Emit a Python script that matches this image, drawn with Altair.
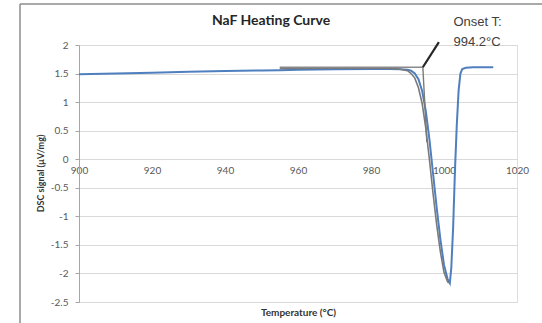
import altair as alt
import pandas as pd

# DSC heating run for NaF (blue series)
temp_c = [900, 910, 920, 930, 940, 950, 955, 960, 970, 980, 985, 988, 990, 991,
          992, 993, 994, 995, 996, 997, 998, 999, 1000, 1001, 1001.6, 1002,
          1002.5, 1003, 1003.5, 1004, 1004.5, 1005, 1006, 1008, 1010, 1013.5]
dsc_signal = [1.49, 1.50, 1.515, 1.53, 1.545, 1.555, 1.56, 1.565, 1.575, 1.58,
              1.58, 1.575, 1.565, 1.55, 1.50, 1.40, 1.20, 0.85, 0.35, -0.25,
              -0.85, -1.40, -1.85, -2.10, -2.17, -1.90, -1.20, -0.20, 0.60,
              1.20, 1.50, 1.58, 1.60, 1.61, 1.61, 1.61]

# Evaluation segment of the melting peak (grey series)
eval_temp = [955, 970, 980, 985, 988, 990, 991, 992, 993, 994, 995, 996, 997,
             998, 999, 1000, 1001, 1001.6]
eval_signal = [1.59, 1.595, 1.595, 1.59, 1.575, 1.55, 1.50, 1.42, 1.25, 0.98,
               0.55, 0.0, -0.60, -1.15, -1.62, -1.98, -2.15, -2.17]

# Extrapolated baseline and leading-edge tangent meeting at the onset
onset_t = 994.2
baseline_temp = [955, onset_t]
baseline_signal = [1.61, 1.61]
tangent_temp = [onset_t, 995.3]
tangent_signal = [1.61, 0.30]

# Leader line and text for the onset annotation
leader_temp = [onset_t, 998.6]
leader_signal = [1.61, 2.05]
note_lines = ["Onset T:", f"{onset_t}°C"]
note_temp = [1002.6, 1002.6]
note_signal = [2.41, 2.06]

x_ticks = [900, 920, 940, 960, 980, 1000, 1020]
y_ticks = [2, 1.5, 1, 0.5, 0, -0.5, -1, -1.5, -2, -2.5]

W, H = 438, 257
X_MIN, X_MAX = 900, 1020
Y_MIN, Y_MAX = -2.5, 2.0
# the horizontal axis crosses the vertical one at zero
X_AXIS_SHIFT = -H * (0 - Y_MIN) / (Y_MAX - Y_MIN)

# chart-area border: 59 px left of and 41 px above the plot area
FRAME_X0 = X_MIN - 59 * (X_MAX - X_MIN) / W
FRAME_X1 = X_MAX + 60 * (X_MAX - X_MIN) / W
FRAME_Y0 = Y_MAX + 41 * (Y_MAX - Y_MIN) / H
FRAME_Y1 = Y_MIN - 40 * (Y_MAX - Y_MIN) / H

x_scale = alt.Scale(domain=[X_MIN, X_MAX], nice=False, zero=False)
y_scale = alt.Scale(domain=[Y_MIN, Y_MAX], nice=False, zero=False)

main = pd.DataFrame({"t": temp_c, "s": dsc_signal})
evals = pd.DataFrame({"t": eval_temp, "s": eval_signal})
base = pd.DataFrame({"t": baseline_temp, "s": baseline_signal})
tang = pd.DataFrame({"t": tangent_temp, "s": tangent_signal})
lead = pd.DataFrame({"t": leader_temp, "s": leader_signal})
note = pd.DataFrame({"t": note_temp, "s": note_signal, "txt": note_lines})
one = pd.DataFrame({"k": [0]})

label_font = "Lato"

x_enc = alt.X(
    "t:Q", scale=x_scale,
    axis=alt.Axis(
        values=x_ticks, tickCount=len(x_ticks), labelExpr="'' + datum.value",
        grid=False, ticks=False, domain=False, offset=X_AXIS_SHIFT,
        labelOverlap=False, labelFlush=False, labelPadding=6,
        labelFont=label_font, labelFontSize=10, labelColor="#595959",
        title="Temperature (°C)", titleFont=label_font, titleFontSize=10,
        titleFontWeight="bold", titleColor="#333333", titleY=153,
        titleBaseline="middle",
    ),
)
y_enc = alt.Y(
    "s:Q", scale=y_scale,
    axis=alt.Axis(
        values=y_ticks, tickCount=len(y_ticks), labelExpr="'' + datum.value",
        grid=True, labelOverlap=False, labelFlush=False, gridColor="#d9d9d9",
        gridWidth=1, ticks=True, tickSize=4, tickColor="#a6a6a6", domain=True,
        domainColor="#a6a6a6", labelPadding=7, labelFont=label_font,
        labelFontSize=10, labelColor="#595959", title="DSC signal (µV/mg)",
        titleFont=label_font, titleFontSize=9, titleFontWeight="bold",
        titleColor="#333333", titleX=-39, titleY=128, titleAngle=270,
        titleBaseline="middle", titleAlign="center",
    ),
)

frame_left = alt.Chart(one).mark_rule(color="#8c8c8c", strokeWidth=1.5).encode(
    x=alt.datum(FRAME_X0), y=alt.datum(FRAME_Y0), y2=alt.datum(FRAME_Y1)
)
frame_top = alt.Chart(one).mark_rule(color="#8c8c8c", strokeWidth=1.5).encode(
    x=alt.datum(FRAME_X0), x2=alt.datum(FRAME_X1), y=alt.datum(FRAME_Y0)
)

title = alt.Chart(one).mark_text(
    text="NaF Heating Curve", font=label_font, fontSize=14, fontWeight="bold",
    color="#262626", align="center", baseline="middle"
).encode(x=alt.value(192), y=alt.value(-24))

blue = alt.Chart(main).mark_line(color="#4f7fbf", strokeWidth=2).encode(
    x=x_enc, y=y_enc, order="t:Q"
)
grey = alt.Chart(evals).mark_line(color="#7a7a7a", strokeWidth=1.6).encode(
    x="t:Q", y="s:Q", order="t:Q"
)
base_line = alt.Chart(base).mark_line(color="#8a8a8a", strokeWidth=1.6).encode(
    x="t:Q", y="s:Q"
)
tan_line = alt.Chart(tang).mark_line(color="#7a7a7a", strokeWidth=1.4).encode(
    x="t:Q", y="s:Q"
)
lead_line = alt.Chart(lead).mark_line(color="#262626", strokeWidth=2.2).encode(
    x="t:Q", y="s:Q"
)
note_text = alt.Chart(note).mark_text(
    align="left", baseline="middle", font="Liberation Sans", fontSize=13,
    color="#404040"
).encode(x="t:Q", y="s:Q", text="txt:N")

chart = alt.layer(
    blue, grey, base_line, tan_line, lead_line, note_text,
    frame_left, frame_top, title
).properties(
    width=W, height=H,
    padding={"left": 79, "top": 45, "right": 25, "bottom": 21},
    autosize="none",
).configure_view(stroke=None).configure(background="white")

chart.save("out.html", embed_options={"renderer": "svg", "actions": False})
